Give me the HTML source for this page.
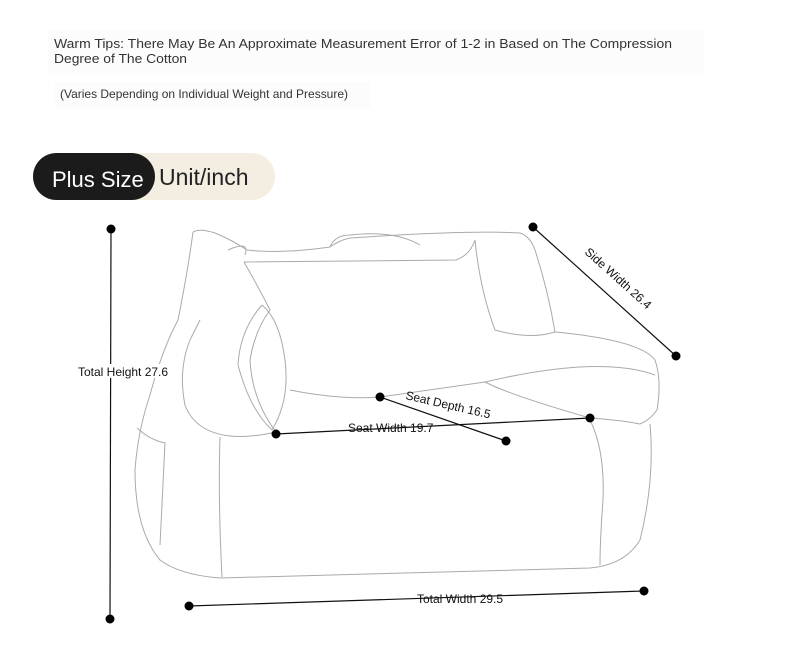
<!DOCTYPE html>
<html><head><meta charset="utf-8"><style>
body{margin:0;background:#fff;width:790px;height:651px;overflow:hidden;font-family:"Liberation Sans",sans-serif;}
</style></head><body>
<svg width="790" height="651" xmlns="http://www.w3.org/2000/svg" font-family="Liberation Sans, sans-serif">
<rect x="48" y="30" width="656" height="45" fill="#fcfcfc"/>
<text x="54" y="48" font-size="13" fill="#333" textLength="618" lengthAdjust="spacingAndGlyphs">Warm Tips: There May Be An Approximate Measurement Error of 1-2 in Based on The Compression</text>
<text x="54" y="63" font-size="13" fill="#333" textLength="133" lengthAdjust="spacingAndGlyphs">Degree of The Cotton</text>
<rect x="55" y="82" width="315" height="26" fill="#fcfcfc"/>
<text x="60" y="98" font-size="12" fill="#333" textLength="288" lengthAdjust="spacingAndGlyphs">(Varies Depending on Individual Weight and Pressure)</text>
<rect x="33" y="153" width="242" height="47" rx="23.5" fill="#f4eee2"/>
<rect x="33" y="153" width="122" height="47" rx="23.5" fill="#1b1b1b"/>
<text x="52" y="187" font-size="22" fill="#fff">Plus Size</text>
<text x="159" y="185" font-size="23" fill="#222">Unit/inch</text>
<g fill="none" stroke="#aaa" stroke-width="1">
<path d="M193 232 Q200 228 215 233 Q232 240 247 250 Q280 254 330 247 Q340 240 350 238 Q470 230 520 233 Q530 236 535 250 Q548 290 555 332 Q640 340 655 360 Q662 380 657 410 Q650 420 640 424"/>
<path d="M193 232 Q188 270 178 320 Q162 350 150 395 Q138 430 135 470 Q135 530 160 560 Q180 575 220 578 L590 568 Q625 565 640 540 Q655 480 650 424"/>
<path d="M244 262 L456 260 Q470 255 475 240"/>
<path d="M475 240 Q480 290 495 330 Q530 340 555 332"/>
<path d="M244 262 Q260 290 270 310 Q255 330 250 360 Q252 400 276 432 Q250 438 230 436 Q195 432 185 405 Q178 370 190 340 Q195 330 200 320"/>
<path d="M262 305 Q240 330 238 365 Q250 410 272 430 Q290 400 285 360 Q280 320 262 305"/>
<path d="M290 390 Q340 400 380 397 Q430 390 485 382 Q510 395 590 418 Q620 420 640 424"/>
<path d="M485 382 Q600 355 655 375"/>
<path d="M137 428 Q150 440 165 443 L160 545"/>
<path d="M220 437 Q218 500 222 577"/>
<path d="M590 420 Q605 450 603 500 Q600 540 600 565"/>
<path d="M228 250 Q250 240 245 255 M330 247 Q335 235 350 235 Q395 230 420 245"/>
</g>
<g stroke="#111" stroke-width="1.2">
<line x1="111" y1="229" x2="110" y2="619"/>
<line x1="533" y1="227" x2="676" y2="356"/>
<line x1="276" y1="434" x2="590" y2="418"/>
<line x1="380" y1="397" x2="506" y2="441"/>
<line x1="189" y1="606" x2="644" y2="591"/>
</g>
<g fill="#000">
<circle cx="111" cy="229" r="4.5"/><circle cx="110" cy="619" r="4.5"/>
<circle cx="533" cy="227" r="4.5"/><circle cx="676" cy="356" r="4.5"/>
<circle cx="276" cy="434" r="4.5"/><circle cx="590" cy="418" r="4.5"/>
<circle cx="380" cy="397" r="4.5"/><circle cx="506" cy="441" r="4.5"/>
<circle cx="189" cy="606" r="4.5"/><circle cx="644" cy="591" r="4.5"/>
</g>
<g font-size="12" fill="#111">
<rect x="77" y="364" width="93" height="14" fill="#fff"/>
<text x="78" y="376">Total Height 27.6</text>
<text x="348" y="432">Seat Width 19.7</text>
<text x="417" y="603">Total Width 29.5</text>
<text x="0" y="0" transform="translate(405,399) rotate(13)">Seat Depth 16.5</text>
<text x="0" y="0" transform="translate(584,253) rotate(42)">Side Width 26.4</text>
</g>
</svg>
</body></html>
